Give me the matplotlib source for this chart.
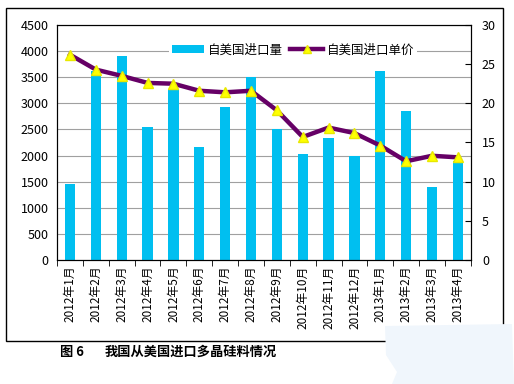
import numpy as np
import matplotlib
matplotlib.use('Agg')
import matplotlib.pyplot as plt
from matplotlib.patches import Rectangle, Polygon

plt.rcParams['font.family'] = ['Noto Sans CJK SC', 'DejaVu Sans']

# 数据
months = ['2012年1月', '2012年2月', '2012年3月', '2012年4月', '2012年5月', '2012年6月',
          '2012年7月', '2012年8月', '2012年9月', '2012年10月', '2012年11月', '2012年12月',
          '2013年1月', '2013年2月', '2013年3月', '2013年4月']
volume = [1450, 3620, 3900, 2540, 3280, 2160, 2930, 3500,
          2500, 2020, 2330, 1990, 3620, 2850, 1400, 1900]
price = [26.2, 24.3, 23.5, 22.6, 22.5, 21.6, 21.4, 21.6,
         19.1, 15.7, 16.9, 16.2, 14.6, 12.6, 13.3, 13.1]

fig = plt.figure(figsize=(5.14, 3.84), dpi=100)
ax = fig.add_axes([0.111, 0.323, 0.805, 0.612])
x = np.arange(len(months))

ax.bar(x, volume, width=0.4, color='#00BFF0', label='自美国进口量', zorder=2)
ax.set_ylim(0, 4500)
ax.set_yticks(range(0, 4501, 500))
ax.set_xlim(-0.5, len(months) - 0.5)
ax.grid(axis='y', color='#a0a0a0', lw=0.8, zorder=0)
ax.set_axisbelow(True)
ax.tick_params(axis='y', length=0, labelsize=9, pad=6)
ax.set_xticks(x)
ax.set_xticklabels(months, rotation=90, fontsize=8.5)
ax.tick_params(axis='x', which='major', length=0, pad=4)
ax.set_xticks(np.arange(-0.5, len(months), 1), minor=True)
ax.tick_params(axis='x', which='minor', length=4, direction='out')
for s in ax.spines.values():
    s.set_color('black')
    s.set_linewidth(0.8)

ax2 = ax.twinx()
ax2.plot(x, price, color='#660066', lw=3.2, marker='^', markersize=6.5,
         markerfacecolor='#FFFF00', markeredgecolor='#E8E800', label='自美国进口单价', zorder=3)
ax2.set_ylim(0, 30)
ax2.set_yticks(range(0, 31, 5))
ax2.tick_params(axis='y', direction='in', length=4, labelsize=9, pad=8)

h1, l1 = ax.get_legend_handles_labels()
h2, l2 = ax2.get_legend_handles_labels()
leg = ax2.legend(h1 + h2, l1 + l2, loc='center', bbox_to_anchor=(0.57, 0.894),
                 ncol=2, frameon=True, fontsize=9, handlelength=2.6,
                 columnspacing=0.6, handletextpad=0.3, borderpad=0.2,
                 markerscale=0.8)
leg.get_frame().set_facecolor('white')
leg.get_frame().set_edgecolor('none')
leg.get_frame().set_alpha(1)

# 外框
fig.patches.append(Rectangle((6 / 514, 1 - 341 / 384), 497 / 514, 333 / 384,
                             transform=fig.transFigure, fill=False,
                             edgecolor='black', lw=1))

# 右下角浅色块
blob = [(385, 326), (512, 324), (514, 384), (392, 384), (397, 372), (386, 355)]
fig.patches.append(Polygon([(px / 514, 1 - py / 384) for px, py in blob],
                           closed=True, transform=fig.transFigure,
                           facecolor='#F0F6FC', edgecolor='none', zorder=5))

fig.text(60 / 514, 1 - 352 / 384, '图 6', fontsize=9.5, fontweight='bold', va='center')
fig.text(105 / 514, 1 - 352 / 384, '我国从美国进口多晶硅料情况', fontsize=9.5,
         fontweight='bold', va='center')

fig.savefig('out.png', dpi=100)
